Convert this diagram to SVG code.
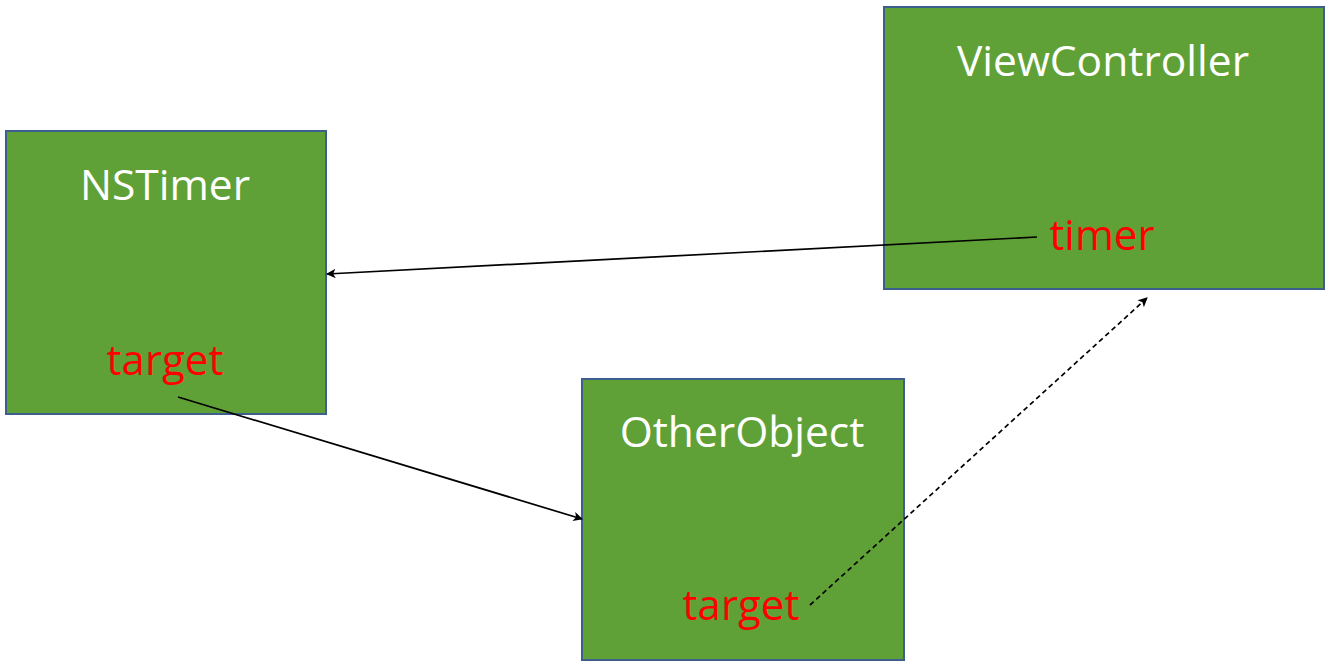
<svg xmlns="http://www.w3.org/2000/svg" width="1330" height="666" viewBox="0 0 1330 666">
  <style>
    .box { fill: #5fa137; stroke: #3c5f8e; stroke-width: 2; }
    .title { font-family: "Open Sans", "Liberation Sans", sans-serif; font-size: 42.5px; fill: #ffffff; text-anchor: middle; }
    .field { font-family: "Open Sans", "Liberation Sans", sans-serif; font-size: 42px; fill: #ff0000; text-anchor: middle; }
    .link { fill: none; stroke: #000000; stroke-width: 1.7; }
    .dashed { stroke-dasharray: 5 3.5; }
  </style>
  <defs>
    <marker id="arrow" viewBox="0 0 10 10" refX="9" refY="5" markerWidth="11" markerHeight="9.5" orient="auto" markerUnits="userSpaceOnUse">
      <path d="M0,0 L10,5 L0,10 L2.5,5 z" fill="#000000"/>
    </marker>
  </defs>
  <rect width="1330" height="666" fill="#ffffff"/>

  <g id="node-nstimer">
    <rect class="box" x="6" y="131" width="320" height="283"/>
    <text class="title" x="165" y="200">NSTimer</text>
    <text class="field" x="165" y="375">target</text>
  </g>

  <g id="node-viewcontroller">
    <rect class="box" x="884" y="7" width="440" height="282"/>
    <text class="title" x="1103" y="76">ViewController</text>
    <text class="field" x="1102" y="250">timer</text>
  </g>

  <g id="node-otherobject">
    <rect class="box" x="582" y="379" width="322" height="281"/>
    <text class="title" x="742" y="447">OtherObject</text>
    <text class="field" x="741" y="620">target</text>
  </g>

  <g id="connectors">
    <line class="link" x1="1037" y1="237" x2="327" y2="274" marker-end="url(#arrow)"/>
    <line class="link" x1="178" y1="397" x2="582" y2="519" marker-end="url(#arrow)"/>
    <line class="link dashed" x1="810" y1="605" x2="1147" y2="298" marker-end="url(#arrow)"/>
  </g>
</svg>
